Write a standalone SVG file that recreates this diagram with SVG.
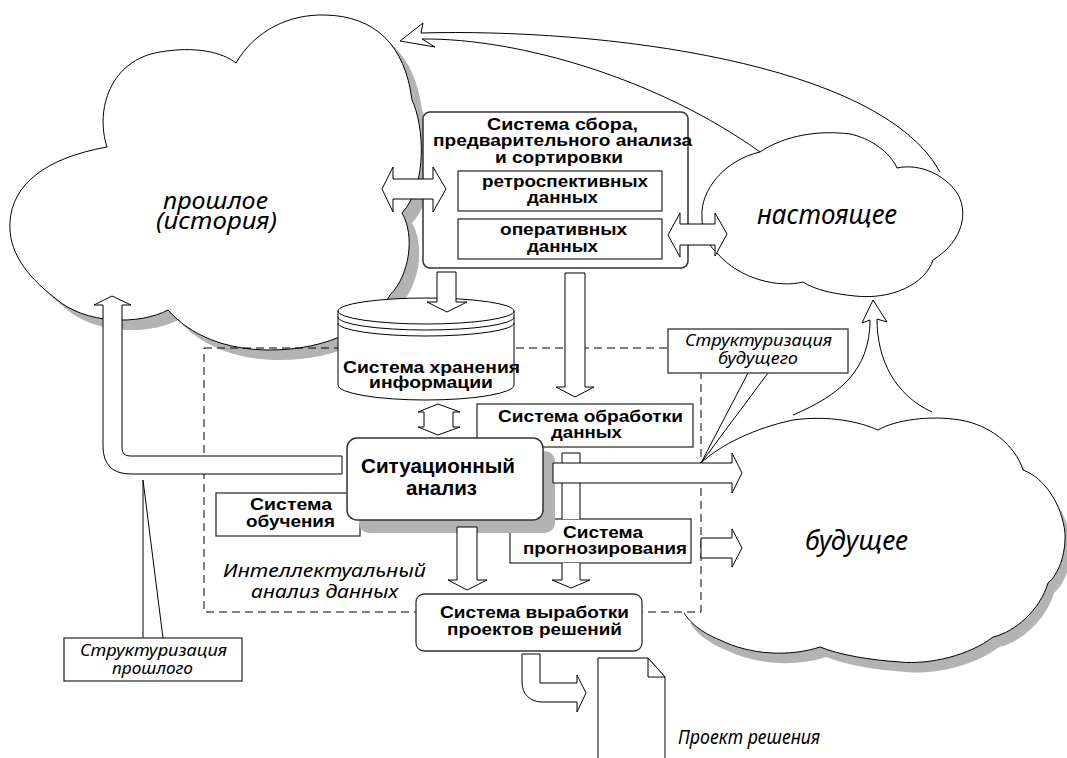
<svg xmlns="http://www.w3.org/2000/svg" width="1067" height="758" viewBox="0 0 1067 758">
  <style>
    .ln { fill: none; stroke: #000; stroke-width: 1; }
    .wf { fill: #fff; stroke: #000; stroke-width: 1; }
    .bx { fill: #fff; stroke: #333; stroke-width: 1.5; }
    .ib { fill: #fff; stroke: #333; stroke-width: 1.3; }
    .sh { fill: #b3b3b3; stroke: none; }
    .dash { fill: none; stroke: #000; stroke-width: 1; stroke-dasharray: 8 5; }
    .b { font-family: "Liberation Sans", Arial, sans-serif; font-weight: bold; font-size: 17px; text-anchor: middle; fill: #000; }
    .big { font-size: 21px; }
    .i { font-family: "Noto Sans", "Liberation Sans", Arial, sans-serif; font-style: italic; text-anchor: middle; fill: #000; }
  </style>
  <defs>
    <path id="pastShape" d="M 107,147 C 95,110 110,60 160,52 C 195,46 222,52 236,63 C 255,30 290,14 325,15 C 375,16 405,45 412,100 C 424,125 428,185 402,213 C 415,235 410,275 390,295 C 375,325 330,350 270,350 C 225,350 190,335 168,310 C 140,325 85,325 55,298 C 25,275 8,250 10,222 C 12,185 45,158 107,147 Z"/>
    <path id="futureFill" d="M 701,463 C 720,445 755,428 793,420 C 830,415 860,422 878,430 C 895,420 930,415 960,420 C 990,425 1015,445 1023,470 C 1045,478 1062,505 1065,533 C 1066,555 1058,575 1048,583 C 1040,610 1015,632 993,637 C 970,655 930,665 900,662 C 870,660 840,655 820,647 C 790,657 750,655 720,640 C 700,632 690,622 684,613 L 701,612 Z"/>
  </defs>

  <rect width="1067" height="758" fill="#fff"/>

  <!-- past -->
  <g id="cloud-past">
    <use href="#pastShape" class="sh" transform="translate(10,10)"/>
    <use href="#pastShape" class="wf"/>
    <text class="i" font-size="24" x="215.5" y="209" textLength="105" lengthAdjust="spacingAndGlyphs">прошлое</text>
    <text class="i" font-size="24" x="216.5" y="229" textLength="121" lengthAdjust="spacingAndGlyphs">(история)</text>
  </g>

  <!-- future -->
  <g id="cloud-future">
    <use href="#futureFill" class="sh" transform="translate(6,10)"/>
    <use href="#futureFill" fill="#fff"/>
    <path class="ln" d="M 701,463 C 720,445 755,428 793,420 C 830,415 860,422 878,430 C 895,420 930,415 960,420 C 990,425 1015,445 1023,470 C 1045,478 1062,505 1065,533 C 1066,555 1058,575 1048,583 C 1040,610 1015,632 993,637 C 970,655 930,665 900,662 C 870,660 840,655 820,647 C 790,657 750,655 720,640 C 700,632 690,622 684,613"/>
    <text class="i" font-size="27" x="856.5" y="550" textLength="103" lengthAdjust="spacingAndGlyphs">будущее</text>
  </g>

  <!-- present -->
  <g id="cloud-present">
    <path class="wf" d="M 702,217 C 700,190 725,160 760,152 C 785,135 820,130 850,134 C 870,138 890,152 897,168 C 920,163 945,175 957,193 C 968,210 965,240 933,260 C 925,285 890,300 855,296 C 835,294 815,290 803,282 C 780,288 740,280 717,253 C 705,242 702,230 702,217 Z"/>
    <text class="i" font-size="28" x="827" y="224" textLength="140" lengthAdjust="spacingAndGlyphs">настоящее</text>
  </g>

  <!-- data mining frame -->
  <g id="frame-mining">
    <rect class="dash" x="204" y="348" width="497" height="264"/>
    <text class="i" font-size="19" x="324.5" y="577" textLength="203" lengthAdjust="spacingAndGlyphs">Интеллектуальный</text>
    <text class="i" font-size="19" x="324.5" y="598" textLength="147" lengthAdjust="spacingAndGlyphs">анализ данных</text>
  </g>

  <!-- collection system -->
  <g id="node-collect">
    <rect class="bx" x="423" y="112" width="265" height="156" rx="7"/>
    <text class="b" x="562.5" y="130" textLength="151" lengthAdjust="spacingAndGlyphs">Система сбора,</text>
    <text class="b" x="562.5" y="146" textLength="259" lengthAdjust="spacingAndGlyphs">предварительного анализа</text>
    <text class="b" x="559" y="163" textLength="128" lengthAdjust="spacingAndGlyphs">и сортировки</text>
    <rect class="ib" x="458" y="171" width="204" height="40"/>
    <text class="b" x="565" y="187" textLength="166" lengthAdjust="spacingAndGlyphs">ретроспективных</text>
    <text class="b" x="562.5" y="203" textLength="71" lengthAdjust="spacingAndGlyphs">данных</text>
    <rect class="ib" x="458" y="219" width="204" height="40"/>
    <text class="b" x="563.5" y="235" textLength="127" lengthAdjust="spacingAndGlyphs">оперативных</text>
    <text class="b" x="562.5" y="252" textLength="71" lengthAdjust="spacingAndGlyphs">данных</text>
  </g>

  <!-- storage -->
  <g id="node-storage">
    <path class="wf" d="M 338,311 L 338,385 A 88,15 0 0 0 514,385 L 514,311"/>
    <ellipse class="wf" cx="426" cy="311" rx="88" ry="13"/>
    <path class="ln" d="M 338,317 A 88,13 0 0 0 514,317 M 338,323 A 88,13 0 0 0 514,323"/>
    <text class="b" x="431.5" y="373" textLength="177" lengthAdjust="spacingAndGlyphs">Система хранения</text>
    <text class="b" x="431" y="388" textLength="124" lengthAdjust="spacingAndGlyphs">информации</text>
  </g>

  <!-- callouts -->
  <g id="note-future">
    <path class="ln" d="M 748,373 L 701,463 L 768,373"/>
    <rect class="ib" x="668" y="329" width="180" height="44"/>
    <text class="i" font-size="15.5" x="758.5" y="346" textLength="147" lengthAdjust="spacingAndGlyphs">Структуризация</text>
    <text class="i" font-size="15.5" x="758" y="364" textLength="80" lengthAdjust="spacingAndGlyphs">будущего</text>
  </g>
  <g id="note-past">
    <path class="ln" d="M 143,638 L 143,480 L 163,638"/>
    <rect class="ib" x="64" y="638" width="178" height="43"/>
    <text class="i" font-size="15.5" x="153.5" y="656" textLength="147" lengthAdjust="spacingAndGlyphs">Структуризация</text>
    <text class="i" font-size="15.5" x="152.5" y="674" textLength="81" lengthAdjust="spacingAndGlyphs">прошлого</text>
  </g>

  <!-- processing -->
  <g id="node-processing">
    <rect class="ib" x="477" y="404" width="216" height="43"/>
    <text class="b" x="590.5" y="422" textLength="185" lengthAdjust="spacingAndGlyphs">Система обработки</text>
    <text class="b" x="586.5" y="438" textLength="71" lengthAdjust="spacingAndGlyphs">данных</text>
  </g>

  <!-- forecasting -->
  <g id="node-forecast">
    <rect class="ib" x="510" y="519" width="181" height="44"/>
    <text class="b" x="603" y="538" textLength="80" lengthAdjust="spacingAndGlyphs">Система</text>
    <text class="b" x="605" y="554" textLength="164" lengthAdjust="spacingAndGlyphs">прогнозирования</text>
  </g>

  <!-- learning -->
  <g id="node-learning">
    <rect class="ib" x="216" y="493" width="144" height="43"/>
    <text class="b" x="291" y="510" textLength="82" lengthAdjust="spacingAndGlyphs">Система</text>
    <text class="b" x="290.5" y="527" textLength="89" lengthAdjust="spacingAndGlyphs">обучения</text>
  </g>

  <!-- situational analysis -->
  <g id="node-situation">
    <rect class="sh" x="359" y="451" width="196" height="82" rx="10"/>
    <rect class="bx" x="347" y="438" width="196" height="82" rx="10"/>
    <text class="b big" x="438" y="473" textLength="154" lengthAdjust="spacingAndGlyphs">Ситуационный</text>
    <text class="b big" x="441.5" y="495" textLength="71" lengthAdjust="spacingAndGlyphs">анализ</text>
  </g>

  <!-- decision drafting -->
  <g id="node-drafting">
    <rect class="ib" x="416" y="594" width="226" height="57" rx="8"/>
    <text class="b" x="534.5" y="618" textLength="189" lengthAdjust="spacingAndGlyphs">Система выработки</text>
    <text class="b" x="534.5" y="635" textLength="175" lengthAdjust="spacingAndGlyphs">проектов решений</text>
  </g>

  <!-- output document -->
  <g id="node-document">
    <path class="wf" d="M 598,758 L 598,658 L 648,658 L 665,677 L 665,758"/>
    <path class="wf" d="M 648,658 L 648,677 L 665,677 Z"/>
    <text class="i" font-size="20" x="678" y="744" style="text-anchor:start" textLength="142" lengthAdjust="spacingAndGlyphs">Проект решения</text>
  </g>

  <g id="connectors">
    <!-- present to past -->
    <path class="ln" d="M 940,172 C 880,62 600,28 421,33 L 423,23 L 400,41 L 435,47 L 422,39 C 520,38 660,80 760,152"/>
    <!-- future to present -->
    <path class="ln" d="M 793,415 C 840,395 870,370 870,320 L 862,323 L 873,300 L 887,322 L 877,319 C 877,360 895,395 932,412"/>
    <!-- past <-> collection -->
    <path class="wf" d="M 382,189 L 393,167 L 393,179 L 433,179 L 433,167 L 446,189 L 433,212 L 433,199 L 393,199 L 393,212 Z"/>
    <!-- collection <-> present -->
    <path class="wf" d="M 668,235 L 680,213 L 680,224 L 715,224 L 715,213 L 727,234 L 715,256 L 715,245 L 680,245 L 680,257 Z"/>
    <!-- collection to storage -->
    <path class="wf" d="M 437,272 L 456,272 L 456,302 L 467,302 L 447,312 L 427,302 L 437,302 Z"/>
    <!-- collection to processing -->
    <path class="wf" d="M 565,273 L 585,273 L 585,387 L 594,387 L 575,397 L 556,387 L 565,387 Z"/>
    <!-- storage <-> analysis -->
    <path class="wf" d="M 438,404 L 460,412 L 453,412 L 453,427 L 460,427 L 438,435 L 418,427 L 424,427 L 424,412 L 418,412 Z"/>
    <!-- processing to drafting, upper part -->
    <path class="wf" d="M 562,519 L 562,453 L 580,453 L 580,519"/>
    <!-- processing to drafting, lower part -->
    <path class="wf" d="M 562,563 L 562,580 L 552,580 L 571,588 L 590,580 L 580,580 L 580,563"/>
    <!-- analysis to future -->
    <path class="wf" d="M 553,463 L 732,463 L 732,453 L 742,473 L 732,493 L 732,483 L 553,483 Z"/>
    <!-- forecasting to future -->
    <path class="wf" d="M 701,538 L 732,538 L 732,529 L 742,548 L 732,567 L 732,558 L 701,558 Z"/>
    <!-- analysis to past -->
    <path class="wf" d="M 342,456 L 130,456 Q 122,456 122,448 L 122,305 L 131,305 L 112,296 L 94,305 L 103,305 L 103,446 Q 103,474 131,474 L 342,474 Z"/>
    <!-- analysis to drafting -->
    <path class="wf" d="M 457,527 L 477,527 L 477,580 L 487,580 L 467,590 L 448,580 L 457,580 Z"/>
    <!-- drafting to document -->
    <path class="wf" d="M 522,654 L 540,654 L 540,683 L 577,683 L 577,675 L 586,693 L 577,712 L 577,702 L 542,702 C 530,702 522,694 522,682 Z"/>
  </g>
</svg>
